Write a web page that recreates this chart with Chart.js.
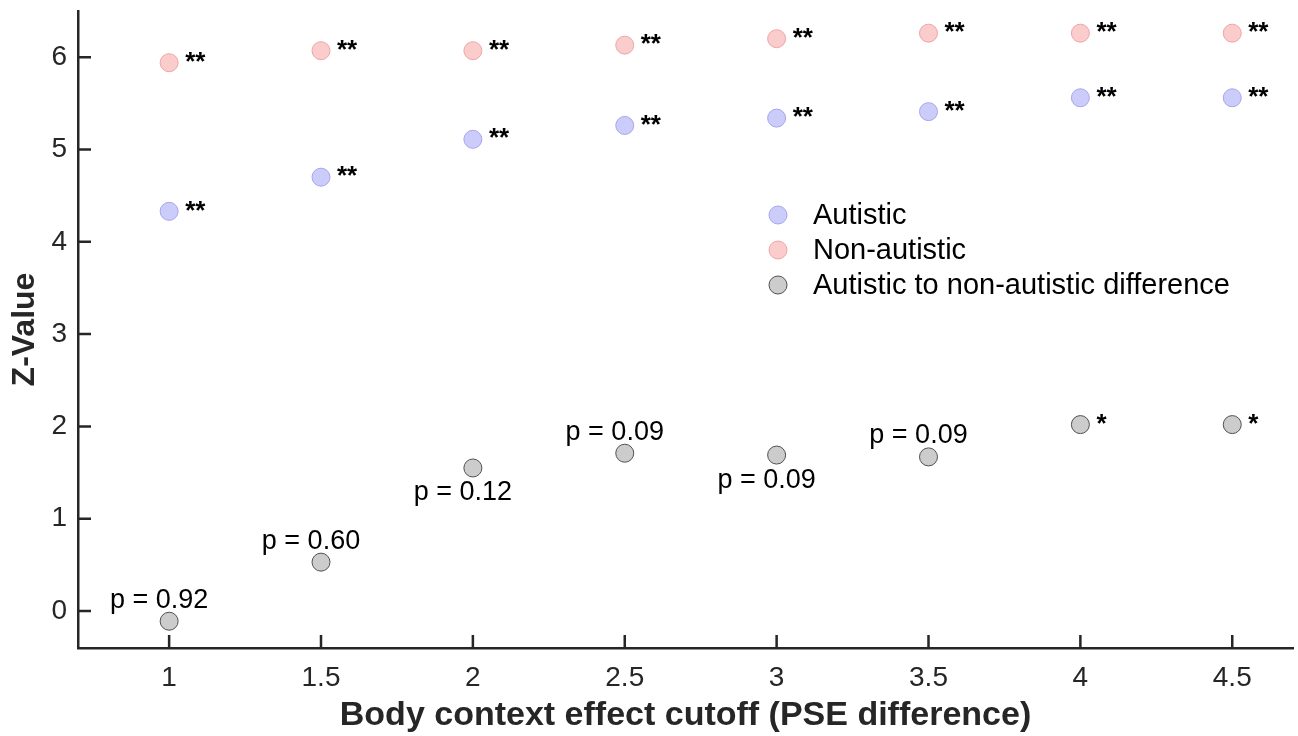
<!DOCTYPE html>
<html>
<head>
<meta charset="utf-8">
<script src="https://cdn.jsdelivr.net/npm/chart.js@4"></script>
<style>
  html, body { margin: 0; padding: 0; background: #ffffff; }
  #wrap { width: 1298px; height: 736px; }
</style>
</head>
<body>
<div id="wrap"><canvas id="c" width="1298" height="736"></canvas></div>
<script>
// ---- data ----
const cutoffs = [1, 1.5, 2, 2.5, 3, 3.5, 4, 4.5];
const autistic = [4.33, 4.70, 5.11, 5.26, 5.34, 5.41, 5.56, 5.56];
const nonAutistic = [5.94, 6.07, 6.07, 6.13, 6.20, 6.26, 6.26, 6.26];
const difference = [-0.11, 0.53, 1.55, 1.71, 1.69, 1.67, 2.02, 2.02];
const autisticSig = ['**', '**', '**', '**', '**', '**', '**', '**'];
const nonAutisticSig = ['**', '**', '**', '**', '**', '**', '**', '**'];
const differenceLabels = ['p = 0.92', 'p = 0.60', 'p = 0.12', 'p = 0.09', 'p = 0.09', 'p = 0.09', '*', '*'];
const differenceLabelSide = ['above', 'above', 'below', 'above', 'below', 'above', 'right', 'right'];
const xTicks = [1, 1.5, 2, 2.5, 3, 3.5, 4, 4.5];
const yTicks = [0, 1, 2, 3, 4, 5, 6];
const seriesNames = ['Autistic', 'Non-autistic', 'Autistic to non-autistic difference'];

// ---- styles ----
const FONT = '"Liberation Sans", Arial, Helvetica, sans-serif';
const AXIS_COLOR = '#262626';

const toPoints = (ys) => cutoffs.map((x, i) => ({ x: x, y: ys[i] }));

// plugin: inward tick marks
const inwardTicks = {
  id: 'inwardTicks',
  afterDraw(chart) {
    const ctx = chart.ctx;
    const xs = chart.scales.x, ys = chart.scales.y;
    const len = 13;
    ctx.save();
    ctx.strokeStyle = AXIS_COLOR;
    ctx.lineWidth = 2.5;
    ctx.beginPath();
    xTicks.forEach(v => {
      const px = xs.getPixelForValue(v);
      ctx.moveTo(px, xs.top);
      ctx.lineTo(px, xs.top - len);
    });
    yTicks.forEach(v => {
      const py = ys.getPixelForValue(v);
      ctx.moveTo(ys.right, py);
      ctx.lineTo(ys.right + len, py);
    });
    ctx.stroke();
    ctx.restore();
  }
};

// plugin: significance stars / p-value labels
const annotations = {
  id: 'annotations',
  afterDatasetsDraw(chart) {
    const ctx = chart.ctx;
    const xs = chart.scales.x, ys = chart.scales.y;
    ctx.save();
    ctx.fillStyle = '#000000';
    ctx.textBaseline = 'middle';
    const drawStars = (vals, marks) => {
      ctx.font = 'bold 26px ' + FONT;
      ctx.textAlign = 'left';
      vals.forEach((v, i) => {
        const px = xs.getPixelForValue(cutoffs[i]);
        const py = ys.getPixelForValue(v);
        ctx.fillText(marks[i], px + 16, py);
      });
    };
    drawStars(autistic, autisticSig);
    drawStars(nonAutistic, nonAutisticSig);
    difference.forEach((v, i) => {
      const px = xs.getPixelForValue(cutoffs[i]);
      const py = ys.getPixelForValue(v);
      const side = differenceLabelSide[i];
      if (side === 'right') {
        ctx.font = 'bold 26px ' + FONT;
        ctx.textAlign = 'left';
        ctx.fillText(differenceLabels[i], px + 16, py);
      } else {
        ctx.font = '27px ' + FONT;
        ctx.textAlign = 'center';
        const dy = side === 'above' ? -21 : 25;
        ctx.fillText(differenceLabels[i], px - 10, py + dy);
      }
    });
    ctx.restore();
  }
};

// plugin: legend inside the plot
const insideLegend = {
  id: 'insideLegend',
  afterDraw(chart) {
    const ctx = chart.ctx;
    const x0 = 778, y0 = 215, rowH = 35;
    ctx.save();
    chart.data.datasets.forEach((ds, i) => {
      const y = y0 + i * rowH;
      ctx.beginPath();
      ctx.arc(x0, y, 9, 0, Math.PI * 2);
      ctx.fillStyle = ds.backgroundColor;
      ctx.fill();
      ctx.lineWidth = ds.borderWidth;
      ctx.strokeStyle = ds.borderColor;
      ctx.stroke();
      ctx.fillStyle = '#000000';
      ctx.font = '29px ' + FONT;
      ctx.textAlign = 'left';
      ctx.textBaseline = 'middle';
      ctx.fillText(ds.label, 813, y + 1);
    });
    ctx.restore();
  }
};

new Chart(document.getElementById('c'), {
  type: 'scatter',
  data: {
    datasets: [
      {
        label: seriesNames[0],
        data: toPoints(autistic),
        backgroundColor: 'rgb(204,204,250)',
        borderColor: 'rgb(165,165,238)',
        borderWidth: 1,
        pointRadius: 9,
        pointHoverRadius: 9
      },
      {
        label: seriesNames[1],
        data: toPoints(nonAutistic),
        backgroundColor: 'rgb(250,204,204)',
        borderColor: 'rgb(238,165,165)',
        borderWidth: 1,
        pointRadius: 9,
        pointHoverRadius: 9
      },
      {
        label: seriesNames[2],
        data: toPoints(difference),
        backgroundColor: 'rgb(204,204,204)',
        borderColor: 'rgb(80,80,80)',
        borderWidth: 1,
        pointRadius: 9,
        pointHoverRadius: 9
      }
    ]
  },
  options: {
    responsive: false,
    animation: false,
    devicePixelRatio: 1,
    layout: { autoPadding: false, padding: { top: 11, right: 5, left: 0, bottom: 0 } },
    plugins: {
      legend: { display: false },
      tooltip: { enabled: false }
    },
    scales: {
      x: {
        type: 'linear',
        position: 'bottom',
        min: 0.7,
        max: 4.7,
        afterBuildTicks: (s) => { s.ticks = xTicks.map(v => ({ value: v })); },
        afterFit: (s) => { s.height = 88; s.paddingLeft = 0; s.paddingRight = 0; },
        grid: { display: false, drawTicks: false },
        border: { display: true, color: AXIS_COLOR, width: 2.5 },
        ticks: {
          color: AXIS_COLOR,
          font: { family: FONT, size: 28 },
          padding: 13,
          maxRotation: 0,
          autoSkip: false,
          callback: (v) => String(v)
        },
        title: {
          display: true,
          text: 'Body context effect cutoff (PSE difference)',
          color: AXIS_COLOR,
          font: { family: FONT, size: 34, weight: 'bold' },
          padding: { top: 0, bottom: 0 }
        }
      },
      y: {
        type: 'linear',
        position: 'left',
        min: -0.4,
        max: 6.5,
        afterBuildTicks: (s) => { s.ticks = yTicks.map(v => ({ value: v })); },
        afterFit: (s) => { s.width = 78; s.paddingTop = 0; s.paddingBottom = 0; },
        grid: { display: false, drawTicks: false },
        border: { display: true, color: AXIS_COLOR, width: 2.5 },
        ticks: {
          color: AXIS_COLOR,
          font: { family: FONT, size: 28 },
          padding: 11,
          autoSkip: false,
          callback: (v) => String(v)
        },
        title: {
          display: true,
          text: 'Z-Value',
          color: AXIS_COLOR,
          font: { family: FONT, size: 32, weight: 'bold' },
          padding: { top: 6, bottom: 0 }
        }
      }
    }
  },
  plugins: [inwardTicks, annotations, insideLegend]
});
</script>
</body>
</html>
